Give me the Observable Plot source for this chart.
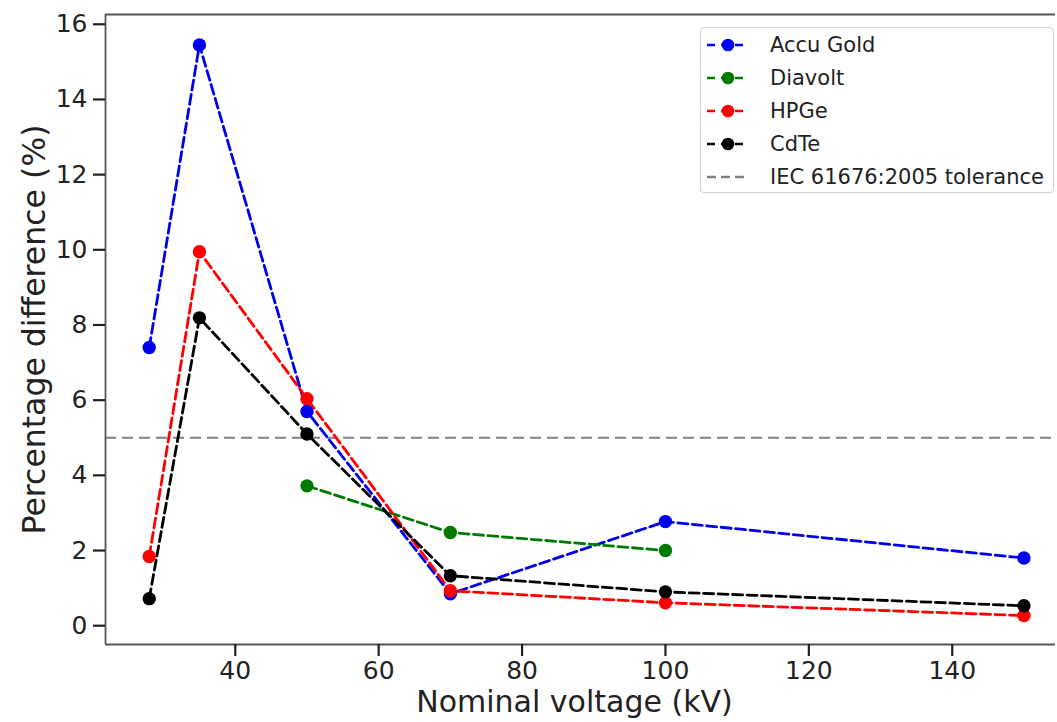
<!DOCTYPE html>
<html>
<head>
<meta charset="utf-8">
<script src="https://cdn.jsdelivr.net/npm/d3@7"></script>
<script src="https://cdn.jsdelivr.net/npm/@observablehq/plot@0.6"></script>
<style>
  html, body { margin: 0; padding: 0; background: #fff; overflow: hidden; }
  #wrap { position: relative; width: 1057px; height: 722px; font-family: "DejaVu Sans", sans-serif; }
  #legend { position: absolute; left: 700px; top: 27px; width: 354px; height: 166px; box-sizing: border-box;
            border: 1px solid #d0d0d0; border-radius: 4px; background: rgba(255,255,255,0.85); }
  .item { position: absolute; left: 5px; height: 26px; display: flex; align-items: center; font-size: 21px; color: #222; white-space: nowrap; }
  .item svg { margin-right: 20px; }
</style>
</head>
<body>
<div id="wrap"><div id="chart"></div><div id="legend"></div></div>
<script>
const voltages = [28, 35, 50, 70, 100, 150];
const accuGold = [7.4, 15.45, 5.7, 0.85, 2.77, 1.8];
const diavoltVoltages = [50, 70, 100];
const diavolt = [3.72, 2.48, 2.0];
const hpge = [1.84, 9.95, 6.04, 0.93, 0.61, 0.27];
const cdte = [0.72, 8.19, 5.1, 1.33, 0.9, 0.53];
const tolerance = 5;
const seriesNames = ["Accu Gold", "Diavolt", "HPGe", "CdTe"];
const seriesColors = ["#0000f0", "#007a00", "#ff0000", "#000000"];
const toleranceLabel = "IEC 61676:2005 tolerance";
const xTicks = [40, 60, 80, 100, 120, 140];
const yTicks = [0, 2, 4, 6, 8, 10, 12, 14, 16];
const xLabel = "Nominal voltage (kV)";
const yLabel = "Percentage difference (%)";

const rows = [];
voltages.forEach((v, i) => rows.push({series: "Accu Gold", v, y: accuGold[i]}));
diavoltVoltages.forEach((v, i) => rows.push({series: "Diavolt", v, y: diavolt[i]}));
voltages.forEach((v, i) => rows.push({series: "HPGe", v, y: hpge[i]}));
voltages.forEach((v, i) => rows.push({series: "CdTe", v, y: cdte[i]}));

const xDom = [21.9, 154.4];
const yDom = [-0.5, 16.26];

const chart = Plot.plot({
  width: 1057,
  height: 722,
  marginLeft: 105,
  marginRight: 2,
  marginTop: 14,
  marginBottom: 78,
  style: {fontFamily: "DejaVu Sans, sans-serif", background: "#fff", overflow: "visible"},
  x: {domain: xDom},
  y: {domain: yDom},
  color: {domain: seriesNames, range: seriesColors},
  marks: [
    Plot.ruleY([tolerance], {stroke: "#808080", strokeWidth: 2.2, strokeDasharray: "11,6"}),
    Plot.line(rows, {x: "v", y: "y", z: "series", stroke: "series", strokeWidth: 2.8, strokeDasharray: "10,4.5"}),
    Plot.dot(rows, {x: "v", y: "y", fill: "series", r: 6.7}),
    Plot.ruleY([yDom[0]], {stroke: "#555", strokeWidth: 1.8}),
    Plot.ruleY([yDom[1]], {stroke: "#555", strokeWidth: 1.8}),
    Plot.ruleX([xDom[0]], {stroke: "#555", strokeWidth: 1.8}),
    Plot.axisX({ticks: xTicks, tickSize: 12, tickPadding: 5, fontSize: 25, label: null, stroke: "#222", strokeWidth: 2.2, color: "#222"}),
    Plot.axisY({ticks: yTicks, tickSize: 12, tickPadding: 6, fontSize: 25, label: null, stroke: "#222", strokeWidth: 2.2, color: "#222"}),
    Plot.text([yLabel], {frameAnchor: "left", textAnchor: "middle", dx: -71, rotate: -90, fontSize: 31.5, fill: "#222"}),
    Plot.text([xLabel], {frameAnchor: "bottom", textAnchor: "middle", dy: 67, dx: -6, fontSize: 30, fill: "#222"})
  ]
});
document.getElementById("chart").appendChild(chart);

const legend = document.getElementById("legend");
const entries = seriesNames.map((n, i) => ({name: n, color: seriesColors[i], dot: true}))
  .concat([{name: toleranceLabel, color: "#808080", dot: false}]);
entries.forEach((e, i) => {
  const div = document.createElement("div");
  div.className = "item";
  div.style.top = (4 + i * 33) + "px";
  const dash = e.dot ? "8,6" : "9,5";
  div.innerHTML = `<svg width="44" height="20"><line x1="1" y1="10" x2="43" y2="10" stroke="${e.color}" stroke-width="2.5" stroke-dasharray="${dash}"/>` +
    (e.dot ? `<circle cx="22" cy="10" r="6.3" fill="${e.color}"/>` : "") + `</svg><span>${e.name}</span>`;
  legend.appendChild(div);
});
</script>
</body>
</html>
